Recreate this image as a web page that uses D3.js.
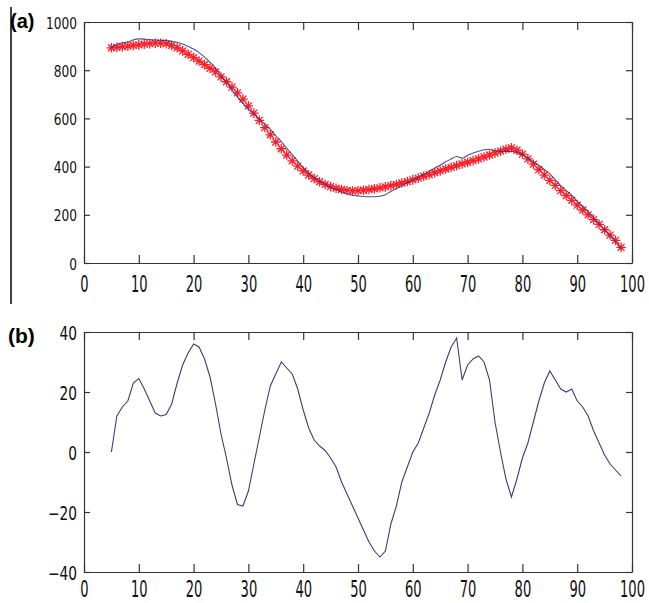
<!DOCTYPE html>
<html><head><meta charset="utf-8">
<script src="https://cdn.jsdelivr.net/npm/d3@7"></script>
<style>
html,body{margin:0;padding:0;background:#fff;}
svg{display:block;}
.tick text{font-family:"DejaVu Sans Condensed","DejaVu Sans",sans-serif;font-stretch:condensed;fill:#111;}
.tick line,.domain{stroke:#333;stroke-width:1.2;}
</style></head><body>
<svg id="c" width="649" height="603"></svg>
<script>
const xValues = [5,6,7,8,9,10,11,12,13,14,15,16,17,18,19,20,21,22,23,24,25,26,27,28,29,30,31,32,33,34,35,36,37,38,39,40,41,42,43,44,45,46,47,48,49,50,51,52,53,54,55,56,57,58,59,60,61,62,63,64,65,66,67,68,69,70,71,72,73,74,75,76,77,78,79,80,81,82,83,84,85,86,87,88,89,90,91,92,93,94,95,96,97,98];
// red star series (panel a)
const fitValues = [893,895,898,900,903,905,908,910,912,912,910,903,893,880,866,852,838,823,808,793,772,752,730,706,680,652,622,592,562,532,502,474,448,424,402,382,365,350,337,326,317,310,305,301,299,300,302,305,308,312,316,321,326,332,338,345,352,360,367,375,382,390,397,404,411,418,425,432,440,448,456,464,472,478,468,452,432,410,388,365,343,322,300,280,260,240,220,200,180,160,138,116,94,65];
// dark line series (panel a)
const obsValues = [893,907,913,917,926,930,929,927,925,924,923,919,916,909,899,888,873,854,833,809,778,750,719,689,662,639,618,597,576,554,528,504,476,450,423,396,373,354,339,327,315,305,295,287,281,278,276,275,275,277,283,297,308,322,333,345,355,368,380,394,406,420,432,442,435,447,456,464,470,472,466,464,463,463,459,450,435,420,405,388,370,346,321,300,281,257,235,212,187,163,137,112,88,57];
// residual series (panel b)
const residualValues = [0,12,15,17,23,24.5,21,17,13,12,12.5,16,23,29,33,36,35,31,25,16,6,-2,-11,-17.5,-18,-13,-4,5,14,22,26,30,28,26,21,14,8,4,2,0.5,-2,-5,-10,-14,-18,-22,-26,-30,-33,-35,-33,-24,-18,-10,-5,0,3,8,13,19,24,30,35,38,24,29,31,32,30,24,10,0,-9,-15,-9,-2,3,10,17,23,27,24,21,20,21,17,15,12,7,3,-1,-4,-6,-8];
const xTicks = [0,10,20,30,40,50,60,70,80,90,100];
const yTicksA = [0,200,400,600,800,1000];
const yTicksB = [-40,-20,0,20,40];
const panelLabels = ["(a)","(b)"];

const svg = d3.select("#c");
const L = 84, R = 632;
const x = d3.scaleLinear().domain([0,100]).range([L,R]);
const yA = d3.scaleLinear().domain([0,1000]).range([263,22]);
const yB = d3.scaleLinear().domain([-40,40]).range([572,332]);
const fmt = d3.format("d");

// left border line
svg.append("line").attr("x1",11).attr("x2",11).attr("y1",7).attr("y2",304)
  .attr("stroke","#000").attr("stroke-width",1.5);

function frame(y, yTicks, o){
  const [bot, top] = y.range();
  const g = svg.append("g");
  const gb = g.append("g").attr("transform",`translate(0,${bot})`)
    .call(d3.axisBottom(x).tickValues(xTicks).tickFormat(fmt).tickSizeInner(-8).tickSizeOuter(0).tickPadding(0));
  gb.selectAll(".tick text")
    .attr("y",null).attr("dy",null)
    .style("font-size",o.xFont+"px")
    .attr("transform",`translate(0,${o.xBase}) scale(${o.xSx},${o.xSy})`);
  g.append("g").attr("transform",`translate(0,${top})`)
    .call(d3.axisTop(x).tickValues(xTicks).tickSizeInner(-8).tickSizeOuter(0).tickFormat(""));
  const gl = g.append("g").attr("transform",`translate(${L},0)`)
    .call(d3.axisLeft(y).tickValues(yTicks).tickFormat(fmt).tickSizeInner(-6).tickSizeOuter(0).tickPadding(0));
  gl.selectAll(".tick text")
    .attr("x",null).attr("dy",null)
    .style("font-size",o.yFont+"px")
    .attr("transform",`translate(-7,${o.yDy}) scale(${o.ySx},${o.ySy})`);
  g.append("g").attr("transform",`translate(${R},0)`)
    .call(d3.axisRight(y).tickValues(yTicks).tickSizeInner(-6).tickSizeOuter(0).tickFormat(""));
}

frame(yA, yTicksA, {xFont:16.5, xBase:29, xSx:0.88, xSy:1.4, yFont:16.5, yDy:6, ySx:0.82, ySy:1.0});
frame(yB, yTicksB, {xFont:16.5, xBase:24.5, xSx:0.88, xSy:1.4, yFont:18, yDy:7, ySx:0.85, ySy:1.05});

// panel a: red asterisks
const s = 4.8, k = s*0.72;
const star = `M${-s},0H${s}M0,${-s}V${s}M${-k},${-k}L${k},${k}M${-k},${k}L${k},${-k}`;
const ptsA = xValues.map((v,i)=>({x:v, y:fitValues[i]}));
svg.append("g").selectAll("path").data(ptsA).join("path")
  .attr("d",star)
  .attr("transform",d=>`translate(${x(d.x)},${yA(d.y)})`)
  .attr("fill","none").attr("stroke","#ff1c24").attr("stroke-width",1.3);

// panel a: dark line
const lineA = d3.line().x((d,i)=>x(xValues[i])).y(d=>yA(d)).curve(d3.curveMonotoneX);
svg.append("path").datum(obsValues).attr("d",lineA)
  .attr("fill","none").attr("stroke","#3a2f78").attr("stroke-width",1.1).attr("opacity",0.85);

// panel b: residual line
const lineB = d3.line().x((d,i)=>x(xValues[i])).y(d=>yB(d));
svg.append("path").datum(residualValues).attr("d",lineB)
  .attr("fill","none").attr("stroke","#3d3d78").attr("stroke-width",1.1);

// panel labels
svg.append("text").attr("x",10).attr("y",28).text(panelLabels[0])
  .style("font-family","'Liberation Sans',Arial,sans-serif").style("font-weight","bold").style("font-size","20px");
svg.append("text").attr("x",8).attr("y",343).text(panelLabels[1])
  .style("font-family","'Liberation Sans',Arial,sans-serif").style("font-weight","bold").style("font-size","21px");
</script>
</body></html>
